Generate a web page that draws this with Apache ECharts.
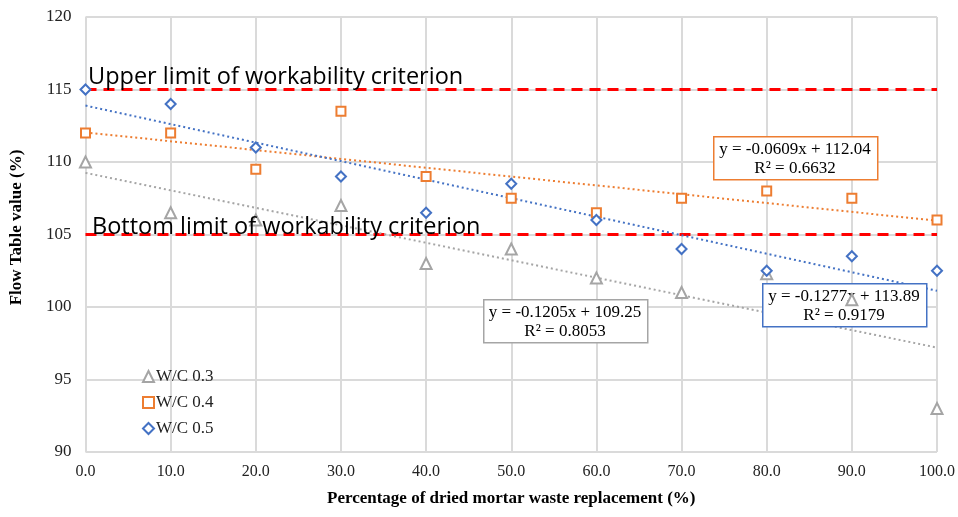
<!DOCTYPE html>
<html>
<head>
<meta charset="utf-8">
<script src="https://cdn.jsdelivr.net/npm/echarts@6/dist/echarts.min.js"></script>
<style>html,body{margin:0;padding:0;background:#fff;}#c{width:958px;height:517px;}</style>
</head>
<body>
<div id="c"></div>
<script>
const xValues = [0, 10, 20, 30, 40, 50, 60, 70, 80, 90, 100];
const wc03 = [110, 106.5, 106, 107, 103, 104, 102, 101, 102.3, 100.5, 93];
const wc04 = [112, 112, 109.5, 113.5, 109, 107.5, 106.5, 107.5, 108, 107.5, 106];
const wc05 = [115, 114, 111, 109, 106.5, 108.5, 106, 104, 102.5, 103.5, 102.5];
const seriesNames = ['W/C 0.3', 'W/C 0.4', 'W/C 0.5'];
const trendSlopes = [-0.1205, -0.0609, -0.1277];
const trendIntercepts = [109.25, 112.04, 113.89];
const trendR2 = ['0.8053', '0.6632', '0.9179'];
const limits = [115, 105];
const limitLabels = ['Upper limit of workability criterion', 'Bottom limit of workability criterion'];
const yTicks = [90, 95, 100, 105, 110, 115, 120];

const colors = ['#a5a5a5', '#ed7d31', '#4472c4'];
const symbols = ['triangle', 'rect', 'diamond'];
const symSizes = [11, 9, 10];
const seriesData = [wc03, wc04, wc05];
const serif = '"Liberation Serif", "Times New Roman", serif';

const chart = echarts.init(document.getElementById('c'), null, {renderer: 'canvas'});

const series = [];
limits.forEach((v, i) => {
  series.push({
    name: 'limit' + i, type: 'line', symbol: 'none', silent: true, z: 1,
    data: [[xValues[0], v], [xValues[xValues.length - 1], v]],
    lineStyle: {color: '#ff0000', width: 3, type: [11, 7]}
  });
});
trendSlopes.forEach((m, i) => {
  const x0 = xValues[0], x1 = xValues[xValues.length - 1];
  series.push({
    name: 'trend' + i, type: 'line', symbol: 'none', silent: true, z: 2,
    data: [[x0, m * x0 + trendIntercepts[i]], [x1, m * x1 + trendIntercepts[i]]],
    lineStyle: {color: colors[i], width: 2, type: [2, 3]}
  });
});
seriesData.forEach((d, i) => {
  series.push({
    name: seriesNames[i], type: 'scatter', z: 5 + i,
    symbol: symbols[i], symbolSize: symSizes[i],
    data: d.map((v, j) => [xValues[j], v]),
    itemStyle: {color: '#ffffff', borderColor: colors[i], borderWidth: 2, opacity: 1}
  });
});

const eqBoxes = [
  {i: 0, left: 483, top: 299},
  {i: 1, left: 713, top: 136},
  {i: 2, left: 762, top: 283}
];
const graphics = [];
eqBoxes.forEach(b => {
  const m = trendSlopes[b.i], c = trendIntercepts[b.i];
  const eq = 'y = ' + m.toFixed(4) + 'x + ' + c.toFixed(2) + '\nR\u00b2 = ' + trendR2[b.i];
  graphics.push({
    type: 'rect', left: b.left, top: b.top, z: 3,
    shape: {width: 164, height: 43},
    style: {fill: '#ffffff', stroke: colors[b.i], lineWidth: 1.5}
  });
  graphics.push({
    type: 'text', x: b.left + 82, y: b.top + 23, z: 4,
    style: {text: eq, font: '17px ' + serif, fill: '#000', align: 'center', verticalAlign: 'middle', lineHeight: 19}
  });
});
graphics.push({type: 'text', left: 88, top: 65, z: 20,
  style: {text: limitLabels[0], font: '23.5px "Open Sans", sans-serif', fill: '#000'}});
graphics.push({type: 'text', left: 92, top: 215, z: 20,
  style: {text: limitLabels[1], font: '23.5px "Open Sans", sans-serif', fill: '#000'}});

chart.setOption({
  backgroundColor: '#ffffff',
  animation: false,
  grid: {left: 85.5, right: 18.7, top: 17, bottom: 65, containLabel: false},
  xAxis: {
    type: 'value', min: 0, max: 100, interval: 10,
    name: 'Percentage of dried mortar waste replacement (%)',
    nameLocation: 'middle', nameGap: 38,
    nameTextStyle: {fontFamily: serif, fontWeight: 'bold', fontSize: 17, color: '#000'},
    axisLine: {show: false}, axisTick: {show: false},
    axisLabel: {formatter: v => v.toFixed(1), fontFamily: serif, fontSize: 16, color: '#222', margin: 12},
    splitLine: {show: true, lineStyle: {color: '#dadada', width: 2}}
  },
  yAxis: {
    type: 'value', min: yTicks[0], max: yTicks[yTicks.length - 1], interval: 5,
    name: 'Flow Table value (%)',
    nameLocation: 'middle', nameGap: 60, nameRotate: 90,
    nameTextStyle: {fontFamily: serif, fontWeight: 'bold', fontSize: 17, color: '#000', padding: [0, 0, 0, 14]},
    axisLine: {show: false}, axisTick: {show: false},
    axisLabel: {fontFamily: serif, fontSize: 17, color: '#222', margin: 14},
    splitLine: {show: true, lineStyle: {color: '#dadada', width: 2}}
  },
  legend: {
    data: seriesNames.map((n, i) => ({name: n, icon: symbols[i]})),
    orient: 'vertical', left: 137, top: 363,
    itemWidth: 11, itemHeight: 11, itemGap: 9,
    textStyle: {fontFamily: serif, fontSize: 17, color: '#222', padding: [0, 0, 0, -3]},
    selectedMode: false
  },
  graphic: graphics,
  series: series
});
</script>
</body>
</html>
